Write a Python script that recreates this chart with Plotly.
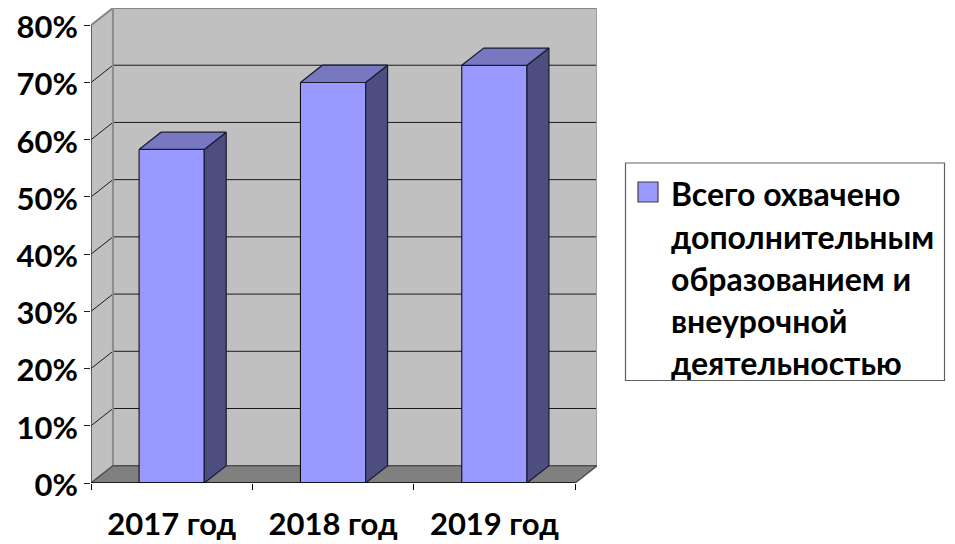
import plotly.graph_objects as go

CATEGORIES = ["2017 год", "2018 год", "2019 год"]
VALUES = [58.3, 70, 73]
Y_TICKS = [0, 10, 20, 30, 40, 50, 60, 70, 80]
Y_LABELS = [f"{v}%" for v in Y_TICKS]
LEGEND_LINES = ["Всего охвачено", "дополнительным", "образованием и", "внеурочной", "деятельностью"]

W, H = 955, 544
L, R, T, B = 91, 597, 8, 483
DX = 0.136          # depth of the pseudo-3D box, category units
DY = 3.02           # depth of the pseudo-3D box, percent units
BAR_W = 0.404
X0, X1 = -0.5, 2.5
Y_MAX = 80
FONT = "Lato, Carlito, sans-serif"
FS_AXIS = 31
FS_LEG = 32

WALL = "#c0c0c0"
FLOOR = "#808080"
FRONT = "#9999ff"
TOP = "#7878c0"
SIDE = "#4d4d80"


def px(x):
    return (x - L) / (R - L)


def py(y):
    return (B - y) / (B - T)


def poly(xs, ys, fill, line="rgba(0,0,0,0)", width=0, **kw):
    path = "M " + " L ".join(f"{a},{b}" for a, b in zip(xs, ys)) + " Z"
    return dict(type="path", path=path, xref="x", yref="y", fillcolor=fill,
                line=dict(color=line, width=width), **kw)


def seg(xs, ys, color, width=1.0, layer="below"):
    path = "M " + " L ".join(f"{a},{b}" for a, b in zip(xs, ys))
    return dict(type="path", path=path, xref="x", yref="y", layer=layer,
                line=dict(color=color, width=width))


shapes = [
    poly([X0 + DX, X1 + DX, X1 + DX, X0 + DX], [DY, DY, Y_MAX + DY, Y_MAX + DY], WALL, layer="below"),
    poly([X0, X0 + DX, X0 + DX, X0], [0, DY, Y_MAX + DY, Y_MAX], WALL, layer="below"),
    poly([X0, X1, X1 + DX, X0 + DX], [0, 0, DY, DY], FLOOR, layer="below"),
]
for v in Y_TICKS[1:-1]:
    shapes.append(seg([X0, X0 + DX, X1 + DX], [v, v + DY, v + DY], "#1a1a1a", 1.0))
shapes += [
    seg([X0, X0 + DX, X1 + DX, X1 + DX], [Y_MAX, Y_MAX + DY, Y_MAX + DY, DY], "#858585", 2),
    seg([X0 + DX, X0 + DX], [DY, Y_MAX + DY], "#8c8c8c", 2),
    seg([X1 + DX, X1 + DX], [DY, Y_MAX + DY], "#a0a0a0", 2),
    seg([X0, X0 + DX, X1 + DX, X1], [0, DY, DY, 0], "#505050", 1.5),
    seg([X0, X0], [0, Y_MAX], "#404040", 1.5, "above"),
    seg([X0, X1], [0, 0], "#000000", 1.5, "above"),
    dict(type="rect", xref="paper", yref="paper", x0=px(625.5), x1=px(944.5), y0=py(380.5), y1=py(163),
         line=dict(color="#606060", width=1.2), fillcolor="white"),
    dict(type="rect", xref="paper", yref="paper", x0=px(638), x1=px(658), y0=py(202), y1=py(182),
         line=dict(color="#404040", width=1.2), fillcolor=FRONT),
]

fig = go.Figure()
fig.add_trace(go.Bar(x=list(range(len(VALUES))), y=VALUES, width=BAR_W, showlegend=False,
                     name="Всего охвачено дополнительным образованием и внеурочной деятельностью",
                     marker=dict(color=FRONT, line=dict(color="#000000", width=1))))
for i, v in enumerate(VALUES):
    a, b = i - BAR_W / 2, i + BAR_W / 2
    fig.add_trace(go.Scatter(x=[b, b + DX, b + DX, b, b], y=[0, DY, v + DY, v, 0], mode="lines",
                             fill="toself", fillcolor=SIDE, line=dict(color="#1a1a33", width=1.2),
                             showlegend=False, hoverinfo="skip"))
    fig.add_trace(go.Scatter(x=[a, b, b + DX, a + DX, a], y=[v, v, v + DY, v + DY, v], mode="lines",
                             fill="toself", fillcolor=TOP, line=dict(color="#1a1a33", width=1.2),
                             showlegend=False, hoverinfo="skip"))

LINE_Y = [193.5, 236.5, 278.5, 320.5, 362.5]
annotations = [
    dict(text=t, xref="paper", yref="paper", x=px(668.5), y=py(y), xanchor="left", yanchor="middle",
         showarrow=False, font=dict(family=FONT, size=FS_LEG, color="black", weight="bold"))
    for t, y in zip(LEGEND_LINES, LINE_Y)
]

fig.update_layout(
    width=W, height=H, autosize=False,
    margin=dict(l=L, r=W - R, t=T, b=H - B, autoexpand=False),
    paper_bgcolor="white", plot_bgcolor="white",
    showlegend=False, bargap=0.6, shapes=shapes, annotations=annotations,
    xaxis=dict(range=[X0, X1 + DX], tickmode="array", tickvals=list(range(len(CATEGORIES))),
               ticktext=CATEGORIES, ticks="", showgrid=False, zeroline=False, showline=False,
               ticklabelstandoff=20, automargin=False,
               tickfont=dict(family=FONT, size=FS_AXIS, color="black", weight="bold"),
               minor=dict(tickmode="array", tickvals=[-0.5, 0.5, 1.5, 2.5], ticks="outside",
                          ticklen=6, tickcolor="#000000", tickwidth=1.2, showgrid=False)),
    yaxis=dict(range=[0, Y_MAX + DY], tickmode="array", tickvals=Y_TICKS, ticktext=Y_LABELS,
               ticks="outside", ticklen=6, tickcolor="#202020", tickwidth=1.2, showgrid=False,
               zeroline=False, showline=False, ticklabelstandoff=0, ticklabelshift=2, automargin=False,
               tickfont=dict(family=FONT, size=FS_AXIS, color="black", weight="bold")),
)
fig.write_html("out.html", config={"displayModeBar": False},
               post_script="document.body.style.margin='0';document.documentElement.style.overflow='hidden';")
